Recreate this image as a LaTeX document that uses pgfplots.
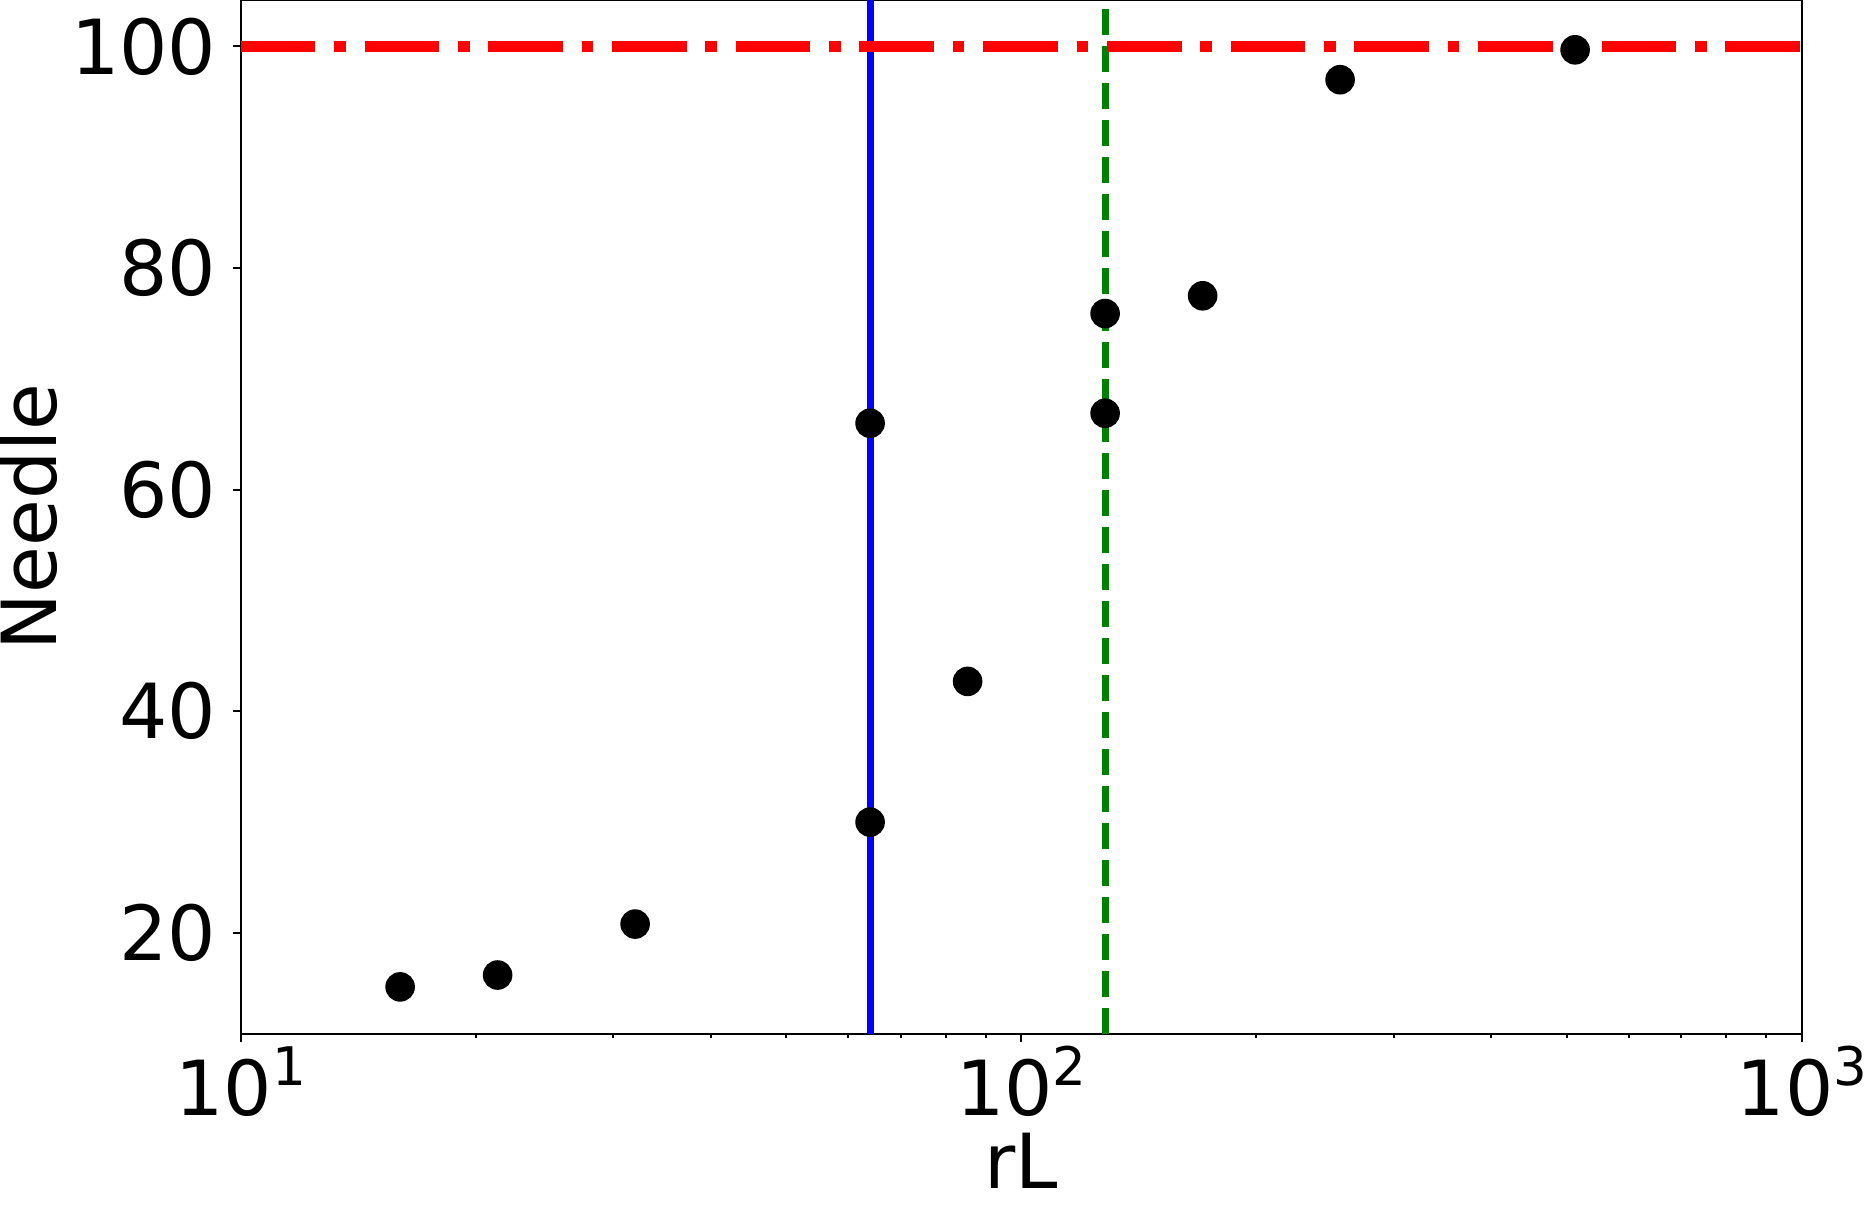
\documentclass[border=0pt]{standalone}
\usepackage{fontspec}
\setmainfont{DejaVu Sans}
\usepackage{pgfplots}
\pgfplotsset{compat=1.18}

\definecolor{mplgreen}{RGB}{0,128,0}
\newcommand{\pw}[1]{10\raisebox{0.395em}{\fontsize{13.3}{14}\selectfont #1}}

\begin{document}
\begin{tikzpicture}[font=\fontsize{19}{22}\selectfont]
\useasboundingbox (0,0) rectangle (467.25pt,301.25pt);
\begin{axis}[
  at={(60.2pt,42.75pt)}, anchor=south west,
  scale only axis, width=390.3pt, height=258.5pt,
  xmode=log,
  xmin=10, xmax=1000,
  ymin=10.88, ymax=104.2,
  xtick={10,100,1000},
  xticklabels={\pw{1},\pw{2},\pw{3}},
  ytick={20,40,60,80,100},
  yticklabels={20,40,60,80,100},
  tick align=outside,
  xtick pos=bottom, ytick pos=left,
  major tick length=2pt, minor tick length=1.1pt,
  every tick/.style={black, line width=0.5pt},
  axis line style={line width=0.5pt},
  xticklabel style={anchor=base, inner sep=0pt, yshift=-18.5pt},
  yticklabel style={anchor=east, inner sep=0pt, xshift=-3.94pt},
  xlabel={rL}, ylabel={Needle},
  xlabel style={at={(axis description cs:0.5,-0.1499)}, anchor=base, inner sep=0pt},
  ylabel style={at={(axis description cs:-0.1179,0.5)}, anchor=base, inner sep=0pt},
]
% data points
\addplot[only marks, mark=*, mark size=3.5pt, black] coordinates {
  (16,15.13)(21.33,16.2)(32,20.8)(64,30.0)(64,66.0)(85.33,42.7)
  (128,66.9)(128,75.9)(170.67,77.5)(256,97.0)(512,99.7)
};
% reference lines
\addplot[blue, line width=1.75pt] coordinates {(64,10.88)(64,104.2)};
\addplot[mplgreen, line width=1.75pt, dash pattern=on 6.46pt off 2.79pt] coordinates {(128,10.88)(128,104.2)};
\addplot[red, line width=2.92pt, dash pattern=on 18.67pt off 4.67pt on 2.92pt off 4.67pt] coordinates {(10,100)(1000,100)};
\end{axis}
\end{tikzpicture}
\end{document}
